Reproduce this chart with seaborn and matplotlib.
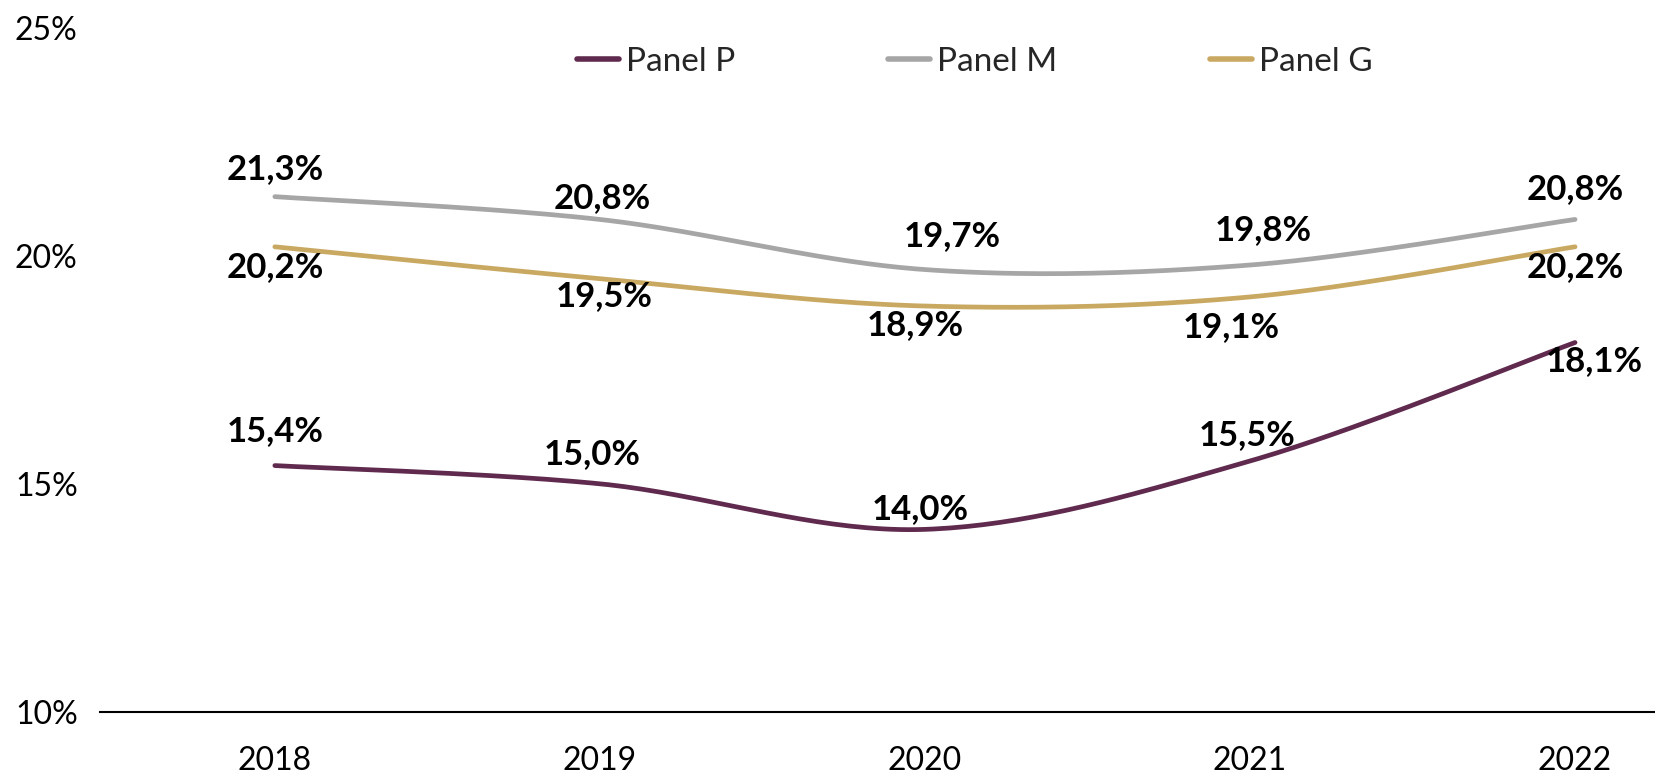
import numpy as np
import pandas as pd
import matplotlib
matplotlib.use("Agg")
import matplotlib.pyplot as plt
import seaborn as sns

years = ["2018", "2019", "2020", "2021", "2022"]
series_names = ["Panel P", "Panel M", "Panel G"]
panel_p = [15.4, 15.0, 14.0, 15.5, 18.1]
panel_m = [21.3, 20.8, 19.7, 19.8, 20.8]
panel_g = [20.2, 19.5, 18.9, 19.1, 20.2]
y_ticks = [10, 15, 20, 25]

colors = {"Panel P": "#5F2A4E", "Panel M": "#A6A6A6", "Panel G": "#C9A961"}
# label offsets in pixels (style only)
offsets = {
    "Panel M": [(0, 28), (2, 21), (27, 34), (13, 35), (0, 30)],
    "Panel G": [(0, -20), (4, -17), (-10, -19), (-19, -30), (0, -20)],
    "Panel P": [(0, 35), (-8, 30), (-5, 20), (-3, 26), (19, -19)],
}

sns.set_theme(style="white")
plt.rcParams["font.family"] = ["Lato", "DejaVu Sans"]

values = {"Panel P": panel_p, "Panel M": panel_m, "Panel G": panel_g}


def smooth(xs, ys, n=40):
    # Catmull-Rom / Bezier smoothing as used by spreadsheet "smoothed line"
    xs = np.asarray(xs, float)
    ys = np.asarray(ys, float)
    px = np.concatenate([[xs[0]], xs, [xs[-1]]])
    py = np.concatenate([[ys[0]], ys, [ys[-1]]])
    outx, outy = [], []
    t = np.linspace(0, 1, n)
    for i in range(len(xs) - 1):
        p0 = np.array([px[i + 1], py[i + 1]])
        p3 = np.array([px[i + 2], py[i + 2]])
        c1 = p0 + (np.array([px[i + 2], py[i + 2]]) - np.array([px[i], py[i]])) / 6
        c2 = p3 - (np.array([px[i + 3], py[i + 3]]) - np.array([px[i + 1], py[i + 1]])) / 6
        b = ((1 - t) ** 3)[:, None] * p0 + (3 * (1 - t) ** 2 * t)[:, None] * c1 \
            + (3 * (1 - t) * t ** 2)[:, None] * c2 + (t ** 3)[:, None] * p3
        if i > 0:
            b = b[1:]
        outx.extend(b[:, 0])
        outy.extend(b[:, 1])
    return np.array(outx), np.array(outy)


frames = []
for name in series_names:
    sx, sy = smooth(range(len(years)), values[name])
    frames.append(pd.DataFrame({"x": sx, "y": sy, "series": name}))
df = pd.concat(frames, ignore_index=True)

fig = plt.figure(figsize=(16.55, 7.74), dpi=100)
ax = fig.add_axes([0.0604, 0.0805, 0.9396, 0.8833])

sns.lineplot(data=df, x="x", y="y", hue="series", palette=colors,
             hue_order=series_names, linewidth=3.4, ax=ax, sort=False,
             estimator=None, legend=True)
for line in ax.get_lines():
    line.set_solid_capstyle("round")

for name in series_names:
    for i, v in enumerate(values[name]):
        dx, dy = offsets[name][i]
        ax.annotate(f"{v:.1f}%".replace(".", ","), xy=(i, v), xytext=(dx, dy),
                    textcoords="offset pixels", ha="center", va="center",
                    fontsize=25, fontweight="bold", color="black")

ax.set_xlim(-0.538, 4.246)
ax.set_ylim(10, 25)
ax.set_xticks(range(len(years)))
ax.set_xticklabels(years)
ax.set_yticks(y_ticks)
ax.set_yticklabels([f"{t}%" for t in y_ticks])
ax.tick_params(axis="x", labelsize=23, pad=25, length=0, colors="black")
ax.tick_params(axis="y", labelsize=23, pad=16, length=0, colors="black")
ax.set_xlabel("")
ax.set_ylabel("")
for s in ["top", "right", "left"]:
    ax.spines[s].set_visible(False)
ax.spines["bottom"].set_color("black")
ax.spines["bottom"].set_linewidth(1.5)
ax.grid(False)

leg = ax.legend(loc="center", bbox_to_anchor=(0.589, 0.92),
                bbox_transform=fig.transFigure, ncol=3, frameon=False,
                fontsize=24, handlelength=1.25, handletextpad=0.2,
                columnspacing=4.6)
for h in leg.get_lines():
    h.set_linewidth(4)
    h.set_solid_capstyle("round")

fig.savefig("out.png", dpi=100)
